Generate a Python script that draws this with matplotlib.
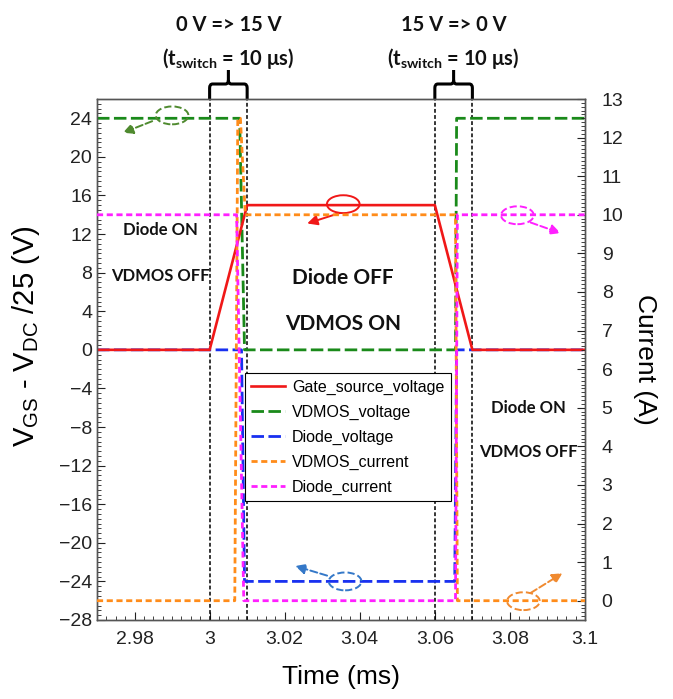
import matplotlib
matplotlib.use("Agg")
import matplotlib.pyplot as plt
import matplotlib.transforms as mtransforms
from matplotlib.patches import Ellipse, PathPatch
from matplotlib.path import Path
from matplotlib.ticker import MultipleLocator

# ---------------- data ----------------
gate_t = [2.97, 3.0, 3.01, 3.06, 3.07, 3.1]
gate_v = [0, 0, 15, 15, 0, 0]

vdmos_v_t = [2.97, 3.008, 3.0093, 3.0655, 3.0658, 3.1]
vdmos_v = [24, 24, 0, 0, 24, 24]

diode_v_t = [2.97, 3.0085, 3.0093, 3.0653, 3.0658, 3.1]
diode_v = [0, 0, -24, -24, 0, 0]

vdmos_i_t = [2.97, 3.0067, 3.0075, 3.0082, 3.0095, 3.0655, 3.066, 3.1]
vdmos_i = [0, 0, 12.5, 12.5, 10, 10, 0, 0]

diode_i_t = [2.97, 3.0072, 3.0091, 3.0655, 3.066, 3.1]
diode_i = [10, 10, 0, 0, 10, 10]

left_ticks = list(range(-28, 25, 4))
right_ticks = list(range(0, 14))
x_ticks = [2.98, 3.0, 3.02, 3.04, 3.06, 3.08, 3.1]
x_ticklabels = ["2.98", "3", "3.02", "3.04", "3.06", "3.08", "3.1"]
switch_lines = [3.0, 3.01, 3.06, 3.07]

# ---------------- figure ----------------
plt.rcParams['font.family'] = ['Liberation Sans', 'DejaVu Sans']
fig = plt.figure(figsize=(6.73, 6.99), dpi=100)
ax = fig.add_axes([97/673, 1-620/699, 488/673, 521/699])
ax2 = ax.twinx()

c_red = '#f01818'
c_green = '#1a8a1a'
c_blue = '#1830f0'
c_orange = '#ff8c1a'
c_mag = '#ff20ff'

l1, = ax.plot(gate_t, gate_v, color=c_red, lw=1.9, label='Gate_source_voltage', zorder=5)
l2, = ax.plot(vdmos_v_t, vdmos_v, color=c_green, lw=2, dashes=(4.5, 1.6), label='VDMOS_voltage', zorder=4)
l3, = ax.plot(diode_v_t, diode_v, color=c_blue, lw=2, dashes=(4.5, 1.6), label='Diode_voltage', zorder=4)
l4, = ax2.plot(vdmos_i_t, vdmos_i, color=c_orange, lw=2, dashes=(2.2, 1.3), label='VDMOS_current', zorder=4)
l5, = ax2.plot(diode_i_t, diode_i, color=c_mag, lw=2, dashes=(2.2, 1.3), label='Diode_current', zorder=4)

ax.set_xlim(2.97, 3.1)
ax.set_ylim(-28, 26)
ax2.set_ylim(-0.5, 13)

ax.set_xticks(x_ticks)
ax.set_xticklabels(x_ticklabels)
ax.set_yticks(left_ticks)
ax2.set_yticks(right_ticks)
ax.xaxis.set_minor_locator(MultipleLocator(0.0025))
ax.yaxis.set_minor_locator(MultipleLocator(0.5))
ax2.yaxis.set_minor_locator(MultipleLocator(0.1))

for a in (ax, ax2):
    a.tick_params(which='both', direction='in', labelsize=14, colors='#222222')
    a.tick_params(which='major', length=6)
    a.tick_params(which='minor', length=3)
    for s in a.spines.values():
        s.set_color('#555555')
        s.set_linewidth(1)
ax.tick_params(axis='x', pad=8)
ax2.tick_params(axis='y', pad=12)

ax.set_xlabel('Time (ms)', fontsize=19, labelpad=12)
ax.set_ylabel(r'V$_{\mathregular{GS}}$ - V$_{\mathregular{DC}}$ /25 (V)', fontsize=21)
ax.yaxis.set_label_coords(-0.113, 0.545)
ax2.set_ylabel('Current (A)', fontsize=19, rotation=270, labelpad=24)

for xv in switch_lines:
    ax.axvline(xv, color='black', lw=1.1, dashes=(2.5, 1.5), zorder=3)

# ---------------- legend ----------------
leg = ax2.legend(handles=[l1, l2, l3, l4, l5], loc='upper left',
                 bbox_to_anchor=(0.303, 0.474), borderaxespad=0, fontsize=11.5,
                 frameon=True, fancybox=False, framealpha=1, edgecolor='black',
                 handlelength=2.1, handletextpad=0.45, labelspacing=0.62, borderpad=0.4)
leg.get_frame().set_linewidth(0.8)
leg.set_zorder(10)

# ---------------- text annotations ----------------
bold = dict(fontweight='bold', family=['Lato', 'DejaVu Sans'], ha='center', va='center', color='#111111')
ax.text(2.9868, 12.4, 'Diode ON', fontsize=12, **bold)
ax.text(2.9868, 7.7, 'VDMOS OFF', fontsize=12, **bold)
ax.text(3.0356, 7.4, 'Diode OFF', fontsize=15, **bold)
ax.text(3.0356, 2.65, 'VDMOS ON', fontsize=15, **bold)
ax.text(3.085, -6.05, 'Diode ON', fontsize=12, **bold)
ax.text(3.085, -10.6, 'VDMOS OFF', fontsize=12, **bold)

btr = mtransforms.blended_transform_factory(ax.transData, ax.transAxes)
px = 1/521.0
for xc, title in [(3.005, '0 V => 15 V'), (3.065, '15 V => 0 V')]:
    xl, xr = xc - 0.005, xc + 0.005
    r = 0.0008
    verts = [(xl, 1.0), (xl, 1 + 11*px), (xl, 1 + 15*px), (xl + r, 1 + 15*px),
             (xc - r, 1 + 15*px), (xc, 1 + 15*px), (xc, 1 + 19*px), (xc, 1 + 29*px)]
    codes = [Path.MOVETO, Path.LINETO, Path.CURVE3, Path.CURVE3,
             Path.LINETO, Path.CURVE3, Path.CURVE3, Path.LINETO]
    verts2 = [(xr, 1.0), (xr, 1 + 11*px), (xr, 1 + 15*px), (xr - r, 1 + 15*px),
              (xc + r, 1 + 15*px), (xc, 1 + 15*px), (xc, 1 + 19*px)]
    codes2 = [Path.MOVETO, Path.LINETO, Path.CURVE3, Path.CURVE3,
              Path.LINETO, Path.CURVE3, Path.CURVE3]
    for v, c in [(verts, codes), (verts2, codes2)]:
        pp = PathPatch(Path(v, c), transform=btr, fill=False, lw=2.2,
                       edgecolor='black', clip_on=False, capstyle='butt')
        ax.add_patch(pp)
    ax.text(xc, 1.142, title, transform=btr, fontsize=14.5, **bold)
    ax.text(xc, 1.077, r'(t$_{\mathregular{switch}}$ = 10 μs)', transform=btr,
            fontsize=14.5, **bold)

# ---------------- ellipses with arrows ----------------
ell_specs = [
    # center_t, center_v, color, ls, arrow start, arrow end
    (2.9900, 24.3, '#4f8a2f', '--', (2.9847, 23.7), (2.9769, 22.5)),
    (3.0356, 15.1, c_red, '-', (3.0348, 14.2), (3.0260, 13.1)),
    (3.0820, 13.95, c_mag, '--', (3.0855, 13.2), (3.0935, 12.1)),
    (3.0361, -24.0, '#3478c8', '--', (3.0313, -23.4), (3.0228, -22.4)),
    (3.0836, -26.05, '#f08a30', '--', (3.0855, -25.2), (3.0940, -23.15)),
]
for ct, cv, col, ls, a0, a1 in ell_specs:
    e = Ellipse((ct, cv), width=0.0087, height=1.85, fill=False, edgecolor=col,
                lw=1.4, ls=ls, zorder=6)
    ax.add_patch(e)
    ax.annotate('', xy=a1, xytext=a0,
                arrowprops=dict(arrowstyle='-|>,head_length=0.6,head_width=0.3',
                                color=col, lw=1.4, ls=ls, shrinkA=0, shrinkB=0),
                zorder=6)

fig.savefig('out.png', dpi=100)
